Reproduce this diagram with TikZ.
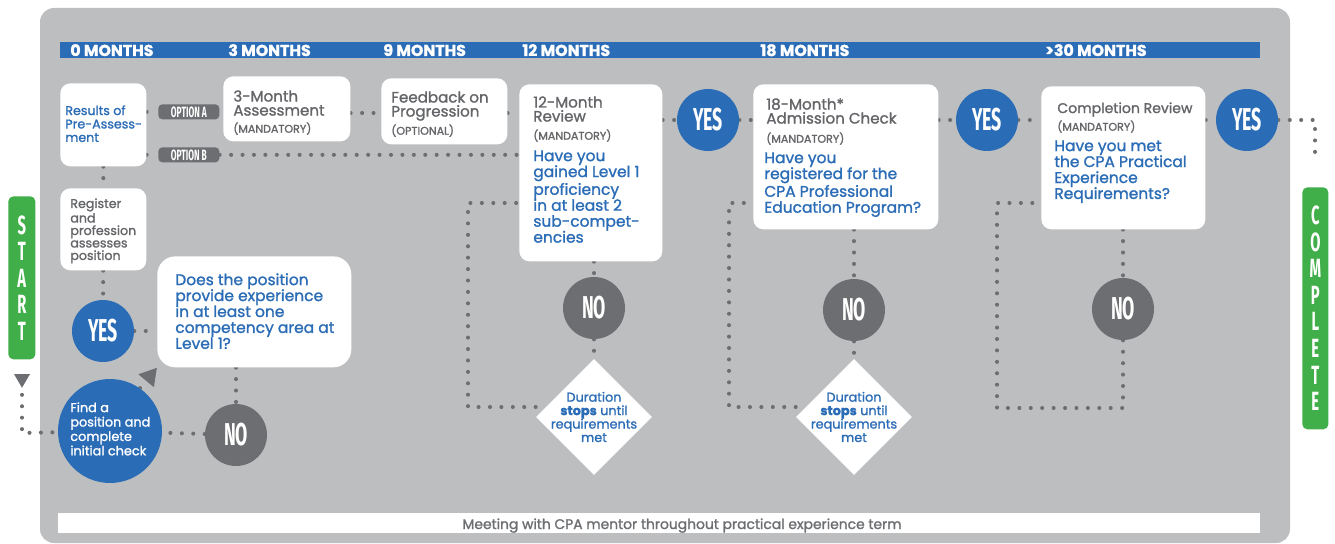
\documentclass[tikz,border=0pt]{standalone}
\usepackage{fontspec}
\setmainfont[FakeBold=1.3]{Poppins}
\newfontfamily\condfont[FakeStretch=0.56]{Fira Sans}
\usetikzlibrary{shapes.geometric,arrows.meta,positioning}

\definecolor{cpablue}{RGB}{43,108,182}
\definecolor{panelgray}{RGB}{188,190,192}
\definecolor{dotgray}{RGB}{109,110,113}
\definecolor{textgray}{RGB}{100,101,104}
\definecolor{cpagreen}{RGB}{64,174,73}

\newcommand{\fsz}[2]{\fontsize{#1}{#2}\selectfont}

\pgfdeclarelayer{panel}
\pgfdeclarelayer{lines}
\pgfsetlayers{panel,lines,main}

\tikzset{
  dotline/.style={draw=dotgray, line width=2.3pt, line cap=round, dash pattern=on 0pt off 6.5pt},
  card/.style={fill=white, rounded corners=0.2cm, anchor=north west, inner sep=0pt},
  cardtitle/.style={anchor=north west, align=left, inner sep=0pt, text=textgray, font=\fsz{8.6}{8}},
  mandtext/.style={anchor=north west, inner sep=0pt, text=textgray, font=\fsz{6.3}{7}},
  question/.style={anchor=north west, align=left, inner sep=0pt, text=cpablue, font=\fsz{8.8}{9.07}},
  yesdot/.style={circle, fill=cpablue, minimum size=1.24cm, inner sep=0pt, text=white, font=\condfont\bfseries\fsz{18}{18}},
  nodot/.style={yesdot, fill=dotgray},
  pill/.style={fill=dotgray, rounded corners=0.08cm, anchor=north west, minimum width=1.22cm, minimum height=0.3cm, inner sep=0pt, text=white, font=\condfont\bfseries\fsz{8.5}{8.5}},
  stopdiamond/.style={diamond, fill=white, minimum size=2.32cm, inner sep=0pt},
  stoptext/.style={align=center, inner sep=0pt, text=cpablue, font=\fsz{7.3}{7.65}},
  monthlabel/.style={anchor=base west, inner sep=0pt, text=white, font=\bfseries\fsz{9}{9}},
  greenbar/.style={fill=cpagreen, rounded corners=0.1cm, anchor=north west, inner sep=0pt, align=center, text=white, font=\condfont\bfseries\fsz{15}{15.1}}
}

\begin{document}
\begin{tikzpicture}[x=0.02cm, y=-0.02cm]
\useasboundingbox (0,0) rectangle (1335,544);

% grey panel, timeline and mentor bar
\begin{pgfonlayer}{panel}
  \fill[panelgray, rounded corners=0.28cm] (40,8) rectangle (1290,543);
  \node[fill=cpablue, anchor=north west, minimum width=24cm, minimum height=0.32cm, inner sep=0pt] (timeline) at (60,42) {};
  \node[fill=white, anchor=north west, minimum width=24.04cm, minimum height=0.4cm, inner sep=0pt] (mentor) at (58,513) {};
\end{pgfonlayer}
\node[text=dotgray, anchor=base, inner sep=0pt, font=\fsz{7.9}{8}] (mentortext) at (682,529) {Meeting with CPA mentor throughout practical experience term};

\foreach \x/\m in {70/0 MONTHS, 228/3 MONTHS, 383/9 MONTHS, 522/12 MONTHS, 760/18 MONTHS, 1045/{>30 MONTHS}}
  \node[monthlabel] (month\x) at (\x,56) {\m};

% start and complete
\node[greenbar, minimum width=0.54cm, minimum height=3.26cm] (startbar) at (8,196) {S\\T\\A\\R\\T};
\node[greenbar, minimum width=0.52cm, minimum height=4.84cm] (completebar) at (1302,187) {C\\O\\M\\P\\L\\E\\T\\E};

% first steps
\node[yesdot, minimum size=2.08cm] (find) at (110,431) {};
\node[anchor=north west, align=left, inner sep=0pt, text=white, font=\fsz{7.3}{8.2}] (findT) at (70,402) {Find a\\position and\\complete\\initial check};
\node[card, minimum width=3.88cm, minimum height=2.22cm, rounded corners=0.36cm] (does) at (157,256) {};
\node[question] (doesT) at (175,273) {Does the position\\provide experience\\in at least one\\competency area at\\Level 1?};
\node[nodot] (no0) at (236,435) {NO};
\node[yesdot] (yes0) at (103,331) {YES};
\node[card, minimum width=1.72cm, minimum height=1.64cm] (register) at (60,188) {};
\node[anchor=north west, align=left, inner sep=0pt, text=textgray, font=\fsz{7.2}{7.1}] (registerT) at (70,198) {Register\\and\\profession\\assesses\\position};
\node[card, minimum width=1.72cm, minimum height=1.66cm] (preres) at (60,83) {};
\node[anchor=north west, align=left, inner sep=0pt, text=cpablue, font=\fsz{7.2}{7.65}] (preresT) at (65,105) {Results of\\Pre-Assess-\\ment};

\node[pill] (optA) at (158,104) {OPTION A};
\node[pill] (optB) at (158,147) {OPTION B};

% 3 and 9 months
\node[card, minimum width=2.54cm, minimum height=1.3cm] (m3) at (223,76) {};
\node[cardtitle] (m3T) at (233,90) {3-Month\\Assessment};
\node[mandtext] (m3M) at (233,122) {(MANDATORY)};
\node[card, minimum width=2.52cm, minimum height=1.32cm] (fb) at (381,78) {};
\node[cardtitle] (fbT) at (391,91) {Feedback on\\Progression};
\node[mandtext] (fbM) at (391,124) {(OPTIONAL)};

% 12 months
\node[card, minimum width=2.86cm, minimum height=3.54cm] (r12) at (519,84) {};
\node[cardtitle] (r12T) at (533,96) {12-Month\\Review};
\node[mandtext] (r12M) at (533,129) {(MANDATORY)};
\node[question] (r12Q) at (533,150) {Have you\\gained Level 1\\proficiency\\in at least 2\\sub-compet-\\encies};
\node[yesdot] (yes1) at (708,120) {YES};
\node[nodot] (no1) at (594,308) {NO};
\node[stopdiamond] (dia1) at (594,417) {};
\node[stoptext] (dia1T) at (594,417) {Duration\\\textbf{stops} until\\requirements\\met};

% 18 months
\node[card, minimum width=3.7cm, minimum height=2.9cm] (a18) at (753,84) {};
\node[cardtitle] (a18T) at (766,98) {18-Month*\\Admission Check};
\node[mandtext] (a18M) at (766,132) {(MANDATORY)};
\node[question] (a18Q) at (764,152) {Have you\\registered for the\\CPA Professional\\Education Program?};
\node[yesdot] (yes2) at (987,120) {YES};
\node[nodot] (no2) at (854,310) {NO};
\node[stopdiamond] (dia2) at (854,417) {};
\node[stoptext] (dia2T) at (854,417) {Duration\\\textbf{stops} until\\requirements\\met};

% completion
\node[card, minimum width=3.28cm, minimum height=2.86cm] (cr) at (1041,86) {};
\node[cardtitle, font=\fsz{8}{8}] (crT) at (1057,102) {Completion Review};
\node[mandtext] (crM) at (1057,120) {(MANDATORY)};
\node[question] (crQ) at (1054,140) {Have you met\\the CPA Practical\\Experience\\Requirements?};
\node[yesdot] (yes3) at (1247,120) {YES};
\node[nodot] (no3) at (1123,309) {NO};

\coordinate (row1) at (0,113);
\coordinate (startarrow) at (22,374);
\coordinate (startturn) at (22,433);
\coordinate (endturn) at (1315,122);
\coordinate (endstop) at (1315,155);
\coordinate (loop1a) at (468,407);
\coordinate (loop1b) at (468,203);
\coordinate (loop2a) at (729,407);
\coordinate (loop2b) at (729,203);
\coordinate (loop3a) at (997,408);
\coordinate (loop3b) at (997,203);

% dotted connectors
\begin{pgfonlayer}{lines}
  \draw[dotline, {Triangle[reversed, width=0.3cm, length=0.28cm]}-] (startarrow) -- (startturn) -- (find);
  \draw[dotline, -{Triangle[width=0.38cm, length=0.34cm]}] (find.55) -- (does.south west);
  \draw[dotline] (no0) -- (find);
  \draw[dotline] (does.south -| no0) -- (no0);
  \draw[dotline] (yes0) -- (does.west |- yes0);
  \draw[dotline] (register) -- (yes0);
  \draw[dotline] (preres) -- (register);
  \draw[dotline] (preres.east |- optA) -- (optA);
  \draw[dotline] (preres.east |- optB) -- (optB);
  \draw[dotline] (m3.east |- row1) -- (fb.west |- row1);
  \draw[dotline] (fb.east |- row1) -- (r12.west |- row1);
  \draw[dotline] (optB) -- (r12.west |- optB);
  \draw[dotline] (r12.east |- yes1) -- (yes1) -- (a18.west |- yes1);
  \draw[dotline] (a18.east |- yes2) -- (yes2) -- (cr.west |- yes2);
  \draw[dotline] (cr.east |- yes3) -- (yes3) -- (yes3 -| endturn) -- (endstop);
  \draw[dotline] (r12.south -| no1) -- (no1) -- (dia1);
  \draw[dotline] (dia1.west |- loop1a) -- (loop1a) -- (loop1b) -- (loop1b -| r12.west);
  \draw[dotline] (a18.south -| no2) -- (no2) -- (dia2);
  \draw[dotline] (dia2.west |- loop2a) -- (loop2a) -- (loop2b) -- (loop2b -| a18.west);
  \draw[dotline] (cr.south -| no3) -- (no3) -- (no3 |- loop3a) -- (loop3a) -- (loop3b) -- (loop3b -| cr.west);
\end{pgfonlayer}
\end{tikzpicture}
\end{document}
